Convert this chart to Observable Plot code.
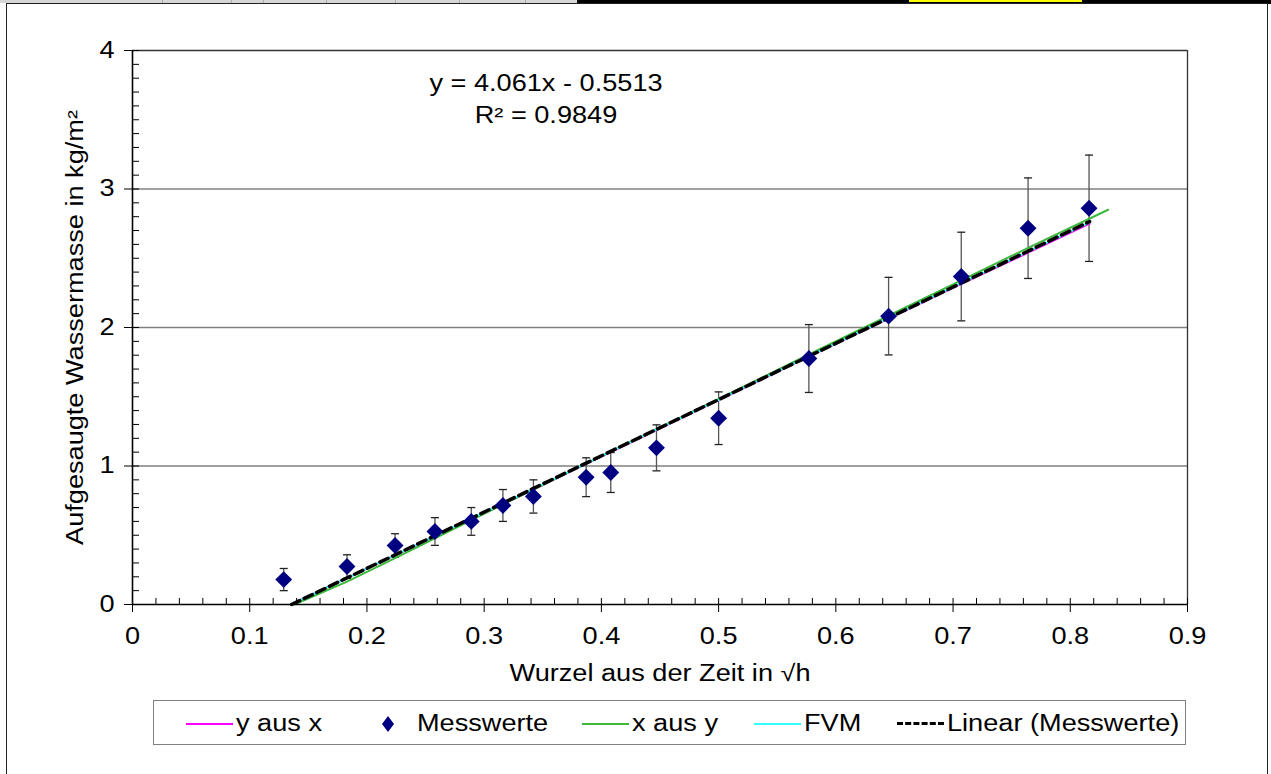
<!DOCTYPE html>
<html>
<head>
<meta charset="utf-8">
<script src="https://cdn.jsdelivr.net/npm/d3@7"></script>
<script src="https://cdn.jsdelivr.net/npm/@observablehq/plot@0.6"></script>
<style>
  body { margin: 0; background: #fff; }
  #wrap { position: relative; width: 1271px; height: 774px; overflow: hidden; font-family: "Liberation Sans", Arial, sans-serif; }
  .deco { position: absolute; }
  #legend { position: absolute; left: 153px; top: 700px; width: 1033px; height: 45px; border: 1px solid #808080; box-sizing: border-box; background: #fff; }
  .item { position: absolute; top: 0; height: 45px; display: flex; align-items: center; }
  .lbl { display: inline-block; font-size: 23px; transform: scaleX(1.18); transform-origin: left center; white-space: nowrap; color: #000; }
  .sw { display: inline-block; width: 47px; height: 0; margin-right: 3px; }
</style>
</head>
<body>
<div id="wrap">
  <div class="deco" style="left:0;top:0;width:577px;height:3px;background:#d6d6d6"></div>
  <div class="deco" style="left:162px;top:0;width:1px;height:3px;background:#aaa"></div>
  <div class="deco" style="left:231px;top:0;width:1px;height:3px;background:#aaa"></div>
  <div class="deco" style="left:263px;top:0;width:1px;height:3px;background:#aaa"></div>
  <div class="deco" style="left:326px;top:0;width:1px;height:3px;background:#aaa"></div>
  <div class="deco" style="left:395px;top:0;width:1px;height:3px;background:#aaa"></div>
  <div class="deco" style="left:459px;top:0;width:1px;height:3px;background:#aaa"></div>
  <div class="deco" style="left:525px;top:0;width:1px;height:3px;background:#aaa"></div>
  <div class="deco" style="left:577px;top:0;width:694px;height:4px;background:#000"></div>
  <div class="deco" style="left:909px;top:0;width:173px;height:2px;background:#ffff00"></div>
  <div class="deco" style="left:6px;top:3px;width:1262px;height:800px;border:1.5px solid #222;border-bottom:none;box-sizing:border-box"></div>
  <div id="chart" style="position:absolute;left:0;top:0"></div>
  <div id="legend"></div>
</div>
<script>
// ---- data ----
const sqrtT = [0.129, 0.183, 0.224, 0.258, 0.289, 0.316, 0.342, 0.387, 0.408, 0.447, 0.500, 0.577, 0.645, 0.707, 0.764, 0.816];
const mass  = [0.18, 0.274, 0.426, 0.527, 0.60, 0.715, 0.78, 0.919, 0.953, 1.131, 1.345, 1.776, 2.082, 2.368, 2.717, 2.861];
const err   = [0.08, 0.085, 0.085, 0.10, 0.10, 0.115, 0.12, 0.14, 0.144, 0.166, 0.19, 0.245, 0.28, 0.32, 0.363, 0.384];

const modelX   = [0.135, 0.183, 0.224, 0.258, 0.289, 0.316, 0.342, 0.387, 0.408, 0.447, 0.500, 0.577, 0.645, 0.707, 0.764, 0.8165];
const yAusX    = [0, 0.19, 0.355, 0.49, 0.615, 0.725, 0.83, 1.015, 1.10, 1.26, 1.475, 1.79, 2.065, 2.315, 2.54, 2.75];
const fvm      = [0, 0.19, 0.357, 0.493, 0.62, 0.73, 0.835, 1.018, 1.104, 1.263, 1.478, 1.792, 2.068, 2.32, 2.548, 2.76];
const xAusYX   = [0.138, 0.183, 0.224, 0.258, 0.289, 0.316, 0.342, 0.387, 0.408, 0.447, 0.500, 0.577, 0.645, 0.707, 0.764, 0.8323];
const xAusYY   = [0, 0.165, 0.335, 0.478, 0.61, 0.722, 0.83, 1.017, 1.105, 1.266, 1.485, 1.805, 2.085, 2.34, 2.575, 2.85];
const trendX   = [0.1357, 0.8165];
const trendY   = [0, 2.765];

const xTicks = [0, 0.1, 0.2, 0.3, 0.4, 0.5, 0.6, 0.7, 0.8, 0.9];
const xTickLabels = ["0", "0.1", "0.2", "0.3", "0.4", "0.5", "0.6", "0.7", "0.8", "0.9"];
const yTicks = [0, 1, 2, 3, 4];
const yTickLabels = ["0", "1", "2", "3", "4"];
const gridValues = [1, 2, 3];
const equation = "y = 4.061x - 0.5513\nR² = 0.9849";
const xTitle = "Wurzel aus der Zeit in √h";
const yTitle = "Aufgesaugte Wassermasse in kg/m²";

const legendItems = [
  {label: "y aus x", kind: "line", color: "#ff00ff", left: 32},
  {label: "Messwerte", kind: "diamond", color: "#000080", left: 221},
  {label: "x aus y", kind: "line", color: "#3cb83c", left: 428},
  {label: "FVM", kind: "line", color: "#33ffff", left: 600},
  {label: "Linear (Messwerte)", kind: "dash", color: "#000", left: 743}
];

// ---- tables ----
const points = sqrtT.map((x, i) => ({x, y: mass[i], e: err[i]}));
const toLine = (xs, ys) => xs.map((x, i) => ({x, y: ys[i]}));
const lineYX = toLine(modelX, yAusX);
const lineFVM = toLine(modelX, fvm);
const lineXY = toLine(xAusYX, xAusYY);
const lineTrend = toLine(trendX, trendY);
const minorX = d3.range(0, 46).map(i => i / 50);
const minorY = d3.range(0, 41).map(i => i / 10);

const cap = {draw(ctx) { ctx.moveTo(-4, 0); ctx.lineTo(4, 0); }};
const font = {fontSize: 23, fontFamily: "Liberation Sans, Arial, sans-serif"};

const chart = Plot.plot({
  width: 1271,
  height: 774,
  marginTop: 50,
  marginRight: 84,
  marginBottom: 170,
  marginLeft: 132,
  style: {background: "transparent", overflow: "visible", fontFamily: "Liberation Sans, Arial, sans-serif", color: "#000"},
  x: {domain: [0, 0.9]},
  y: {domain: [0, 4]},
  marks: [
    Plot.ruleY(gridValues, {stroke: "#808080", strokeWidth: 1.3}),
    Plot.ruleY([4], {stroke: "#333", strokeWidth: 1.3}),
    Plot.ruleX([0.9], {stroke: "#333", strokeWidth: 1.3}),
    // error bars
    Plot.ruleX(points, {x: "x", y1: d => d.y - d.e, y2: d => d.y + d.e, stroke: "#555", strokeWidth: 1.3}),
    Plot.dot(points, {x: "x", y: d => d.y + d.e, symbol: cap, stroke: "#222", strokeWidth: 1.3, fill: "none", r: 4}),
    Plot.dot(points, {x: "x", y: d => d.y - d.e, symbol: cap, stroke: "#222", strokeWidth: 1.3, fill: "none", r: 4}),
    // model lines
    Plot.line(lineYX, {x: "x", y: "y", stroke: "#ff00ff", strokeWidth: 2}),
    Plot.line(lineXY, {x: "x", y: "y", stroke: "#3cb83c", strokeWidth: 2}),
    Plot.line(lineFVM, {x: "x", y: "y", stroke: "#33ffff", strokeWidth: 2}),
    Plot.line(lineTrend, {x: "x", y: "y", stroke: "#000", strokeWidth: 3.5, strokeDasharray: "9,5"}),
    // measurements
    Plot.dot(points, {x: "x", y: "y", symbol: "diamond2", r: 7.6, fill: "#000080", stroke: "none"}),
    // axes
    Plot.axisX({ticks: minorX, tickSize: -6, tickFormat: () => "", label: null, stroke: "#000"}),
    Plot.axisX({ticks: xTicks, tickSize: 8, tickPadding: 15, tickFormat: (d, i) => xTickLabels[i], label: null, ...font}),
    Plot.axisY({ticks: minorY, tickSize: -7, tickFormat: () => "", label: null}),
    Plot.axisY({ticks: yTicks, tickSize: 8, tickPadding: 10, tickFormat: (d, i) => yTickLabels[i], label: null, ...font}),
    Plot.ruleY([0], {stroke: "#000", strokeWidth: 1.6}),
    Plot.ruleX([0], {stroke: "#000", strokeWidth: 1.6}),
    // texts
    Plot.text([equation], {frameAnchor: "top", dx: -114, dy: 46, lineHeight: 1.4, lineAnchor: "middle", fill: "#000", ...font}),
    Plot.text([xTitle], {frameAnchor: "bottom", dy: 76, fill: "#000", ...font}),
    Plot.text([yTitle], {frameAnchor: "left", dx: -57, rotate: -90, fill: "#000", ...font})
  ]
});
document.getElementById("chart").appendChild(chart);

// widen glyphs horizontally to match reference's stretched text
chart.querySelectorAll("text").forEach(t => {
  const spans = t.querySelectorAll("tspan");
  const targets = spans.length ? Array.from(spans) : [t];
  targets.forEach(el => {
    if (!el.textContent) return;
    const len = el.getComputedTextLength();
    if (len <= 0) return;
    const L = len * 1.18;
    el.setAttribute("textLength", L);
    el.setAttribute("lengthAdjust", "spacingAndGlyphs");
    const tr = el.getAttribute("transform") || "";
    if (tr.includes("rotate")) {
      // keep the rotated title centred
      el.setAttribute("text-anchor", "start");
      el.setAttribute("x", -L / 2);
    }
  });
});

// legend
const legend = document.getElementById("legend");
legendItems.forEach(it => {
  const div = document.createElement("div");
  div.className = "item";
  div.style.left = it.left + "px";
  let sw;
  if (it.kind === "diamond") {
    sw = document.createElementNS("http://www.w3.org/2000/svg", "svg");
    sw.setAttribute("width", 36); sw.setAttribute("height", 20);
    sw.innerHTML = `<path d="M13,2 L19,10 L13,18 L7,10 Z" fill="${it.color}"/>`;
    sw.style.marginRight = "6px";
  } else {
    sw = document.createElement("span");
    sw.className = "sw";
    sw.style.borderTop = it.kind === "dash" ? `3px dashed ${it.color}` : `2px solid ${it.color}`;
  }
  const lbl = document.createElement("span");
  lbl.className = "lbl";
  lbl.textContent = it.label;
  div.appendChild(sw);
  div.appendChild(lbl);
  legend.appendChild(div);
});
</script>
</body>
</html>
